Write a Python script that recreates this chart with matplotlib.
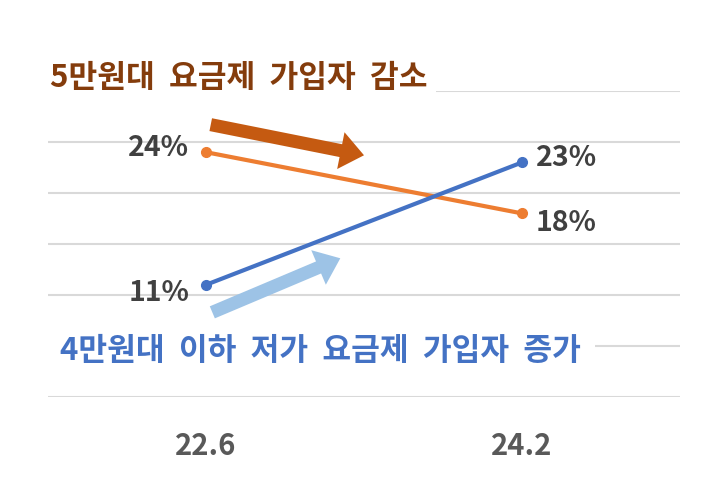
import matplotlib
matplotlib.use("Agg")
import matplotlib.pyplot as plt

plt.rcParams['font.family'] = ['Noto Sans CJK KR', 'DejaVu Sans']

# data
periods = ["22.6", "24.2"]
mid_plan = [24, 18]     # 5만원대 요금제
low_plan = [11, 23]     # 4만원대 이하 저가 요금제
yticks = [0, 5, 10, 15, 20, 25, 30]
title_mid = "5만원대 요금제 가입자 감소"
title_low = "4만원대 이하 저가 요금제 가입자 증가"

ORANGE = "#ED7D31"
BLUE = "#4472C4"
LABEL = "#404040"

fig = plt.figure(figsize=(7.26, 5.02), dpi=100)
ax = fig.add_axes([48 / 726, 1 - 398 / 502, 632 / 726, 306 / 502])

x = list(range(len(periods)))
ax.plot(x, mid_plan, color=ORANGE, lw=3, marker="o", ms=7, zorder=3)
ax.plot(x, low_plan, color=BLUE, lw=3, marker="o", ms=7, zorder=3)

ax.set_xlim(-0.5, 1.5)
ax.set_ylim(0, 30)
ax.set_yticks(yticks)
ax.yaxis.grid(True, color="#d9d9d9", lw=1.5)
ax.set_axisbelow(True)
ax.tick_params(left=False, bottom=False, labelleft=False)
ax.set_xticks(x)
ax.set_xticklabels(periods, fontsize=21, fontweight="bold", color="#595959")
ax.tick_params(axis="x", pad=20)
for s in ax.spines.values():
    s.set_visible(False)

# value labels
ax.annotate(f"{mid_plan[0]}%", (0, mid_plan[0]), xytext=(-12, 4), textcoords="offset points",
            ha="right", va="center", fontsize=20.5, fontweight="bold", color=LABEL)
ax.annotate(f"{mid_plan[1]}%", (1, mid_plan[1]), xytext=(10, -6), textcoords="offset points",
            ha="left", va="center", fontsize=20.5, fontweight="bold", color=LABEL)
ax.annotate(f"{low_plan[0]}%", (0, low_plan[0]), xytext=(-12, -5), textcoords="offset points",
            ha="right", va="center", fontsize=20.5, fontweight="bold", color=LABEL)
ax.annotate(f"{low_plan[1]}%", (1, low_plan[1]), xytext=(10, 4), textcoords="offset points",
            ha="left", va="center", fontsize=20.5, fontweight="bold", color=LABEL)

# trend arrows
ax.annotate("", xy=(0.5, 23.7), xytext=(0.015, 26.7),
            arrowprops=dict(arrowstyle="simple,head_length=0.85,head_width=1.35,tail_width=0.47",
                            mutation_scale=20, color="#C55A11", lw=0, shrinkA=0, shrinkB=0))
ax.annotate("", xy=(0.425, 13.6), xytext=(0.02, 8.3),
            arrowprops=dict(arrowstyle="simple,head_length=0.85,head_width=1.35,tail_width=0.47",
                            mutation_scale=20, color="#9DC3E6", lw=0, shrinkA=0, shrinkB=0))

# callout texts (wider word gaps like the original font)
fig.text(50 / 726, 1 - 78 / 502, title_mid.replace(" ", "  "), fontsize=22.5, fontweight="bold",
         color="#843C0C", va="center", ha="left",
         bbox=dict(facecolor="white", edgecolor="none", pad=6))
fig.text(60 / 726, 1 - 351 / 502, title_low.replace(" ", "  "), fontsize=22.5, fontweight="bold",
         color=BLUE, va="center", ha="left",
         bbox=dict(facecolor="white", edgecolor="none", pad=10))

fig.savefig("out.png", dpi=100)
